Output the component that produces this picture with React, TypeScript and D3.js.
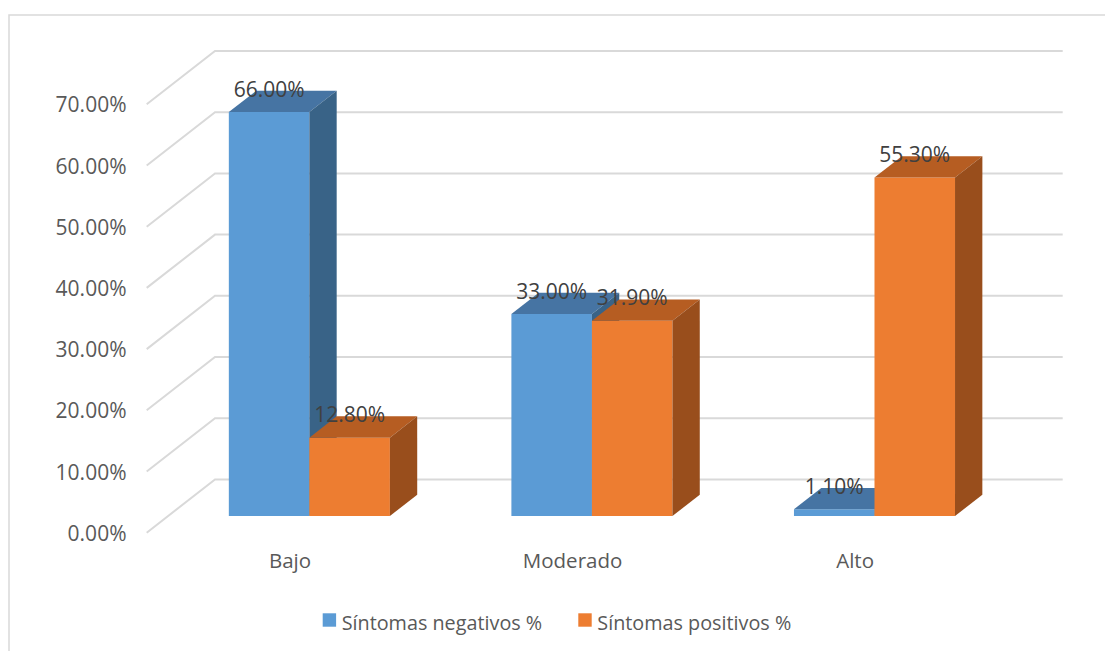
import React from "react";
import * as d3 from "d3";

const categories = ["Bajo", "Moderado", "Alto"];
const seriesNames = ["Síntomas negativos %", "Síntomas positivos %"];
const negativos = [66.0, 33.0, 1.1];
const positivos = [12.8, 31.9, 55.3];
const yTicks = [0, 10, 20, 30, 40, 50, 60, 70];

const W = 1105;
const H = 651;
const X0 = 146.7;
const XW = 847.7;
const DX = 68.3;
const DY = 53.3;
const D0 = 0.313;
const D1 = 0.713;
const FONT = "'Open Sans', 'Noto Sans', sans-serif";

const faceColors = [
  { front: "#5B9BD5", top: "#4674A3", side: "#396387" },
  { front: "#ED7D31", top: "#B65D22", side: "#994E1C" },
];

export default function App() {
  const y = d3.scaleLinear().domain([0, 70]).range([532.7, 104.3]);
  const band = d3.scaleBand<string>().domain(categories).range([X0, X0 + XW]).padding(0);
  const groupW = band.bandwidth() * 0.57;
  const inner = d3
    .scaleBand<number>()
    .domain([0, 1])
    .range([0, groupW])
    .padding(0);

  const proj = (x: number, v: number, d: number): [number, number] => [x + d * DX, y(v) - d * DY];
  const poly = (pts: [number, number][]) => pts.map((p) => p.join(",")).join(" ");

  const series = [negativos, positivos];

  const bars: React.ReactNode[] = [];
  const labels: React.ReactNode[] = [];
  categories.forEach((c, ci) => {
    const gx = (band(c) as number) + (band.bandwidth() - groupW) / 2;
    series.forEach((vals, si) => {
      const v = vals[ci];
      const x0 = gx + (inner(si) as number);
      const x1 = x0 + inner.bandwidth();
      const col = faceColors[si];
      bars.push(
        <g key={`b-${ci}-${si}`}>
          <polygon
            points={poly([proj(x0, 0, D0), proj(x1, 0, D0), proj(x1, v, D0), proj(x0, v, D0)])}
            fill={col.front}
          />
          <polygon
            points={poly([proj(x0, v, D0), proj(x1, v, D0), proj(x1, v, D1), proj(x0, v, D1)])}
            fill={col.top}
          />
          <polygon
            points={poly([proj(x1, 0, D0), proj(x1, 0, D1), proj(x1, v, D1), proj(x1, v, D0)])}
            fill={col.side}
          />
        </g>
      );
      const [lx, ly] = proj((x0 + x1) / 2, v, D0);
      labels.push(
        <text
          key={`l-${ci}-${si}`}
          x={lx}
          y={ly - 15.5}
          textAnchor="middle"
          fontSize={21}
          fill="#404040"
          fontFamily={FONT}
        >
          {v.toFixed(2) + "%"}
        </text>
      );
    });
  });

  return (
    <div style={{ position: "absolute", left: 0, top: 0 }}>
      <svg width={W} height={H} style={{ display: "block" }}>
        <rect x={0} y={0} width={W} height={H} fill="#FFFFFF" />
        <rect x={9} y={15} width={1300} height={1000} fill="none" stroke="#D9D9D9" strokeWidth={1.5} />
        {yTicks.map((t) => {
          const a = proj(X0, t, 0);
          const b = proj(X0, t, 1);
          const c = proj(X0 + XW, t, 1);
          return (
            <polyline
              key={`g-${t}`}
              points={poly([a, b, c])}
              fill="none"
              stroke="#D9D9D9"
              strokeWidth={2}
            />
          );
        })}
        {yTicks.map((t) => (
          <text
            key={`t-${t}`}
            x={126.5}
            y={y(t) + 8}
            textAnchor="end"
            fontSize={21}
            fill="#595959"
            fontFamily={FONT}
          >
            {t.toFixed(2) + "%"}
          </text>
        ))}
        {bars}
        {labels}
        {categories.map((c) => (
          <text
            key={`c-${c}`}
            x={(band(c) as number) + band.bandwidth() / 2 + 2}
            y={568}
            textAnchor="middle"
            fontSize={20.5}
            fill="#595959"
            fontFamily={FONT}
          >
            {c}
          </text>
        ))}
        {seriesNames.map((s, i) => {
          const lx = i === 0 ? 322.7 : 578.3;
          return (
            <g key={`lg-${i}`}>
              <rect x={lx} y={613.3} width={13.4} height={13.4} fill={faceColors[i].front} />
              <text x={lx + 19} y={630} fontSize={19.8} fill="#595959" fontFamily={FONT}>
                {s}
              </text>
            </g>
          );
        })}
      </svg>
    </div>
  );
}
